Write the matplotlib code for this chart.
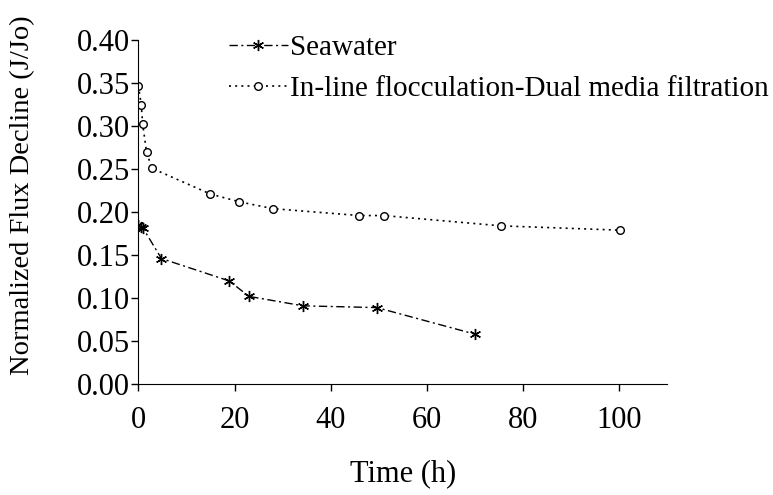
import matplotlib
matplotlib.use('Agg')
import matplotlib.pyplot as plt

plt.rcParams['font.family'] = ['Liberation Serif', 'DejaVu Serif']

# Seawater
sw_time = [0, 0.5, 1, 4.8, 18.9, 23, 34.3, 49.6, 70.1]
sw_flux = [0.185, 0.183, 0.181, 0.146, 0.120, 0.102, 0.091, 0.089, 0.058]

# In-line flocculation - dual media filtration
df_time = [0, 0.6, 0.9, 1.7, 2.8, 15, 21, 28, 46, 51, 75.5, 100.2]
df_flux = [0.347, 0.325, 0.302, 0.270, 0.251, 0.221, 0.212, 0.204, 0.196, 0.196, 0.184, 0.179]

x_ticks = [0, 20, 40, 60, 80, 100]
y_ticks = [0.00, 0.05, 0.10, 0.15, 0.20, 0.25, 0.30, 0.35, 0.40]

fig = plt.figure(figsize=(7.73, 4.95), dpi=100)
ax = fig.add_axes([0.179, 0.224, 0.684, 0.695])

ax.plot(sw_time, sw_flux, color='black', linewidth=1, dashes=(6, 2.5, 1.5, 2.5),
        marker=(6, 2, 0), markersize=8, markeredgewidth=1, label='Seawater')
ax.plot(df_time, df_flux, color='black', linewidth=1.2, dashes=(1.2, 2.5),
        marker='o', markersize=5.5, markerfacecolor='white', markeredgewidth=1,
        label='In-line flocculation-Dual media filtration')

ax.set_xlim(0, 110)
ax.set_ylim(0, 0.40)
ax.set_xticks(x_ticks)
ax.set_yticks(y_ticks)
ax.set_yticklabels([f'{v:.2f}' for v in y_ticks])
ax.spines['top'].set_visible(False)
ax.spines['right'].set_visible(False)
ax.tick_params(axis='both', labelsize=22, direction='out', length=5, width=1)
ax.tick_params(axis='x', pad=11)
ax.tick_params(axis='y', pad=1)

ax.set_xlabel('Time (h)', fontsize=22, labelpad=17)
ax.set_ylabel('Normalized Flux Decline (J/Jo)', fontsize=20.5)
ax.yaxis.set_label_coords(-0.195, 0.55)

ax.legend(loc='upper left', bbox_to_anchor=(0.2965, 0.93), bbox_transform=fig.transFigure,
          frameon=False, fontsize=21, numpoints=1, handlelength=2.0, handletextpad=0.1,
          labelspacing=0.5, borderpad=0, borderaxespad=0)

plt.savefig('out.png', dpi=100)
plt.close()
